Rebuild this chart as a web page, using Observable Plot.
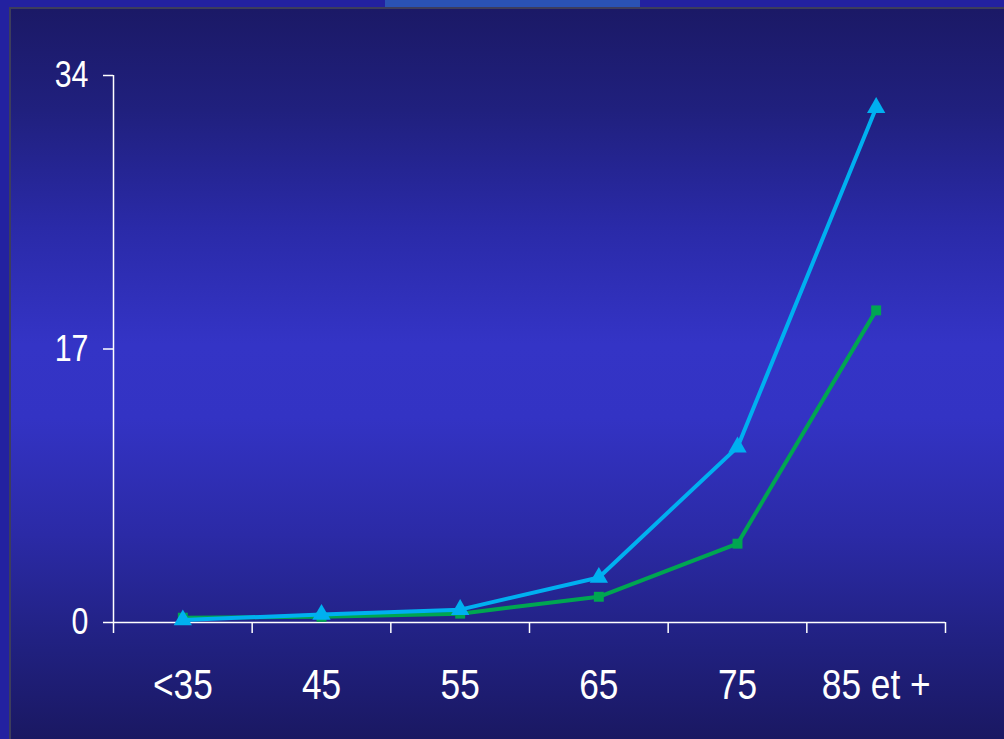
<!DOCTYPE html>
<html>
<head>
<meta charset="utf-8">
<script src="https://cdn.jsdelivr.net/npm/d3@7"></script>
<script src="https://cdn.jsdelivr.net/npm/@observablehq/plot@0.6"></script>
<style>
  html, body { margin: 0; padding: 0; width: 1004px; height: 739px; overflow: hidden; background: #2321a0; }
  #tab { position: absolute; left: 385px; top: 0; width: 255px; height: 7px; background: #2a52b4; }
  #frame { position: absolute; left: 9px; top: 7px; width: 995px; height: 732px;
           border-left: 2px solid #3d3d5c; border-top: 2px solid #3d3d5c; box-sizing: border-box; }
  #chart { position: absolute; left: 11px; top: 9px; }
</style>
</head>
<body>
<div id="tab"></div>
<div id="frame"></div>
<div id="chart"></div>
<script>
// Age groups along the x axis
const ageGroups = ["<35", "45", "55", "65", "75", "85 et +"];
// Series values per age group
const seriesBlue = [0.15, 0.5, 0.8, 2.8, 10.9, 32];
const seriesGreen = [0.3, 0.35, 0.55, 1.6, 4.9, 19.4];
// Y axis ticks
const yTicks = [0, 17, 34];

const rows = (values, name) => values.map((v, i) => ({pos: i + 0.5, value: v, series: name}));
const blueRows = rows(seriesBlue, "blue");
const greenRows = rows(seriesGreen, "green");
const boundaries = d3.range(ageGroups.length + 1);
const centers = ageGroups.map((_, i) => i + 0.5);

const font = "'Liberation Sans', Arial, sans-serif";

const chart = Plot.plot({
  width: 993,
  height: 730,
  marginLeft: 102,
  marginRight: 59,
  marginTop: 66,
  marginBottom: 117,
  style: {
    background: "linear-gradient(to bottom, #1b1966 0%, #20207e 14%, #2a2aa8 30%, #3434c6 46%, #3333c4 56%, #2b2aa6 72%, #20207e 88%, #1a1862 100%)",
    color: "white",
    fontFamily: font,
    overflow: "visible"
  },
  x: {type: "linear", domain: [0, ageGroups.length], axis: null},
  y: {domain: [0, 34], axis: null},
  marks: [
    Plot.ruleY([0], {x1: 0, x2: ageGroups.length, stroke: "white", strokeWidth: 1.5}),
    Plot.ruleX([0], {y1: 0, y2: 34, stroke: "white", strokeWidth: 1.5}),
    Plot.axisY({ticks: yTicks, label: null, tickSize: 10, tickPadding: 15, fontSize: 37,
      stroke: "white", strokeWidth: 1.5, tickFormat: d => String(d), fill: "white"}),
    Plot.axisX({ticks: boundaries, label: null, tickSize: 11, tickFormat: () => "",
      stroke: "white", strokeWidth: 1.5}),
    Plot.axisX({ticks: centers, label: null, tickSize: 0, tickPadding: 46, fontSize: 43, fill: "white",
      tickFormat: v => ageGroups[Math.floor(v)]}),
    Plot.line(greenRows, {x: "pos", y: "value", stroke: "#00a651", strokeWidth: 4}),
    Plot.dot(greenRows, {x: "pos", y: "value", symbol: "square", r: 5.6, fill: "#00a651"}),
    Plot.line(blueRows, {x: "pos", y: "value", stroke: "#00b0f0", strokeWidth: 4}),
    Plot.dot(blueRows, {x: "pos", y: "value", symbol: "triangle", r: 6.8, fill: "#00b0f0"})
  ]
});

// Narrow the tick labels horizontally around their anchor points
chart.querySelectorAll("text").forEach(t => {
  const tr = t.getAttribute("transform");
  if (tr) {
    t.setAttribute("transform", tr + " scale(0.82,1)");
  } else {
    const x = +(t.getAttribute("x") || 0), y = +(t.getAttribute("y") || 0);
    t.removeAttribute("x"); t.removeAttribute("y");
    t.setAttribute("transform", `translate(${x},${y}) scale(0.82,1)`);
  }
});

document.getElementById("chart").appendChild(chart);
</script>
</body>
</html>
